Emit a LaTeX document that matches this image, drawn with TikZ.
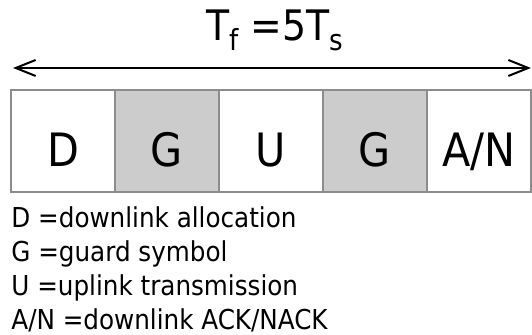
\documentclass[tikz,border=0pt]{standalone}
\usepackage{fontspec}
\setmainfont{DejaVu Sans Condensed}
\usetikzlibrary{arrows.meta}
\newcommand{\lowtext}[1]{\raisebox{-5pt}{\fontsize{14.5pt}{14.5pt}\selectfont #1}}

\begin{document}
\begin{tikzpicture}[x=0.5pt,y=0.5pt]
\tikzstyle{every node}+=[inner sep=0pt]
\tikzstyle{slot}=[draw=black!45, line width=1pt, minimum width=52pt, minimum height=51pt, text height=26pt, text depth=0pt, font=\fontsize{23pt}{23pt}\selectfont]
\tikzstyle{guard}=[slot, fill=black!20]
\tikzstyle{key}=[anchor=base west, font=\fontsize{13.7pt}{13.7pt}\selectfont]
\useasboundingbox (0,0) rectangle (532,-335);
\node [anchor=base, font=\fontsize{21pt}{21pt}\selectfont] (tf) at (275,-41) {T\lowtext{f} =5T\lowtext{s}};
\coordinate (l) at (13,-68);
\coordinate (r) at (531,-68);
\draw [line width=1pt, {Straight Barb[length=10pt,width=8pt]}-{Straight Barb[length=10pt,width=8pt]}] (l) -- (r);
\node [slot] (d) at (63,-141) {D};
\node [guard] (g1) at (167,-141) {G};
\node [slot] (u) at (271,-141) {U};
\node [guard] (g2) at (375,-141) {G};
\node [slot] (an) at (479,-141) {A/N};
\node [key] (kd) at (11,-228) {D =downlink allocation};
\node [key] (kg) at (11,-262) {G =guard symbol};
\node [key] (ku) at (11,-296) {U =uplink transmission};
\node [key] (kan) at (11,-330) {A/N =downlink ACK/NACK};
\end{tikzpicture}
\end{document}
